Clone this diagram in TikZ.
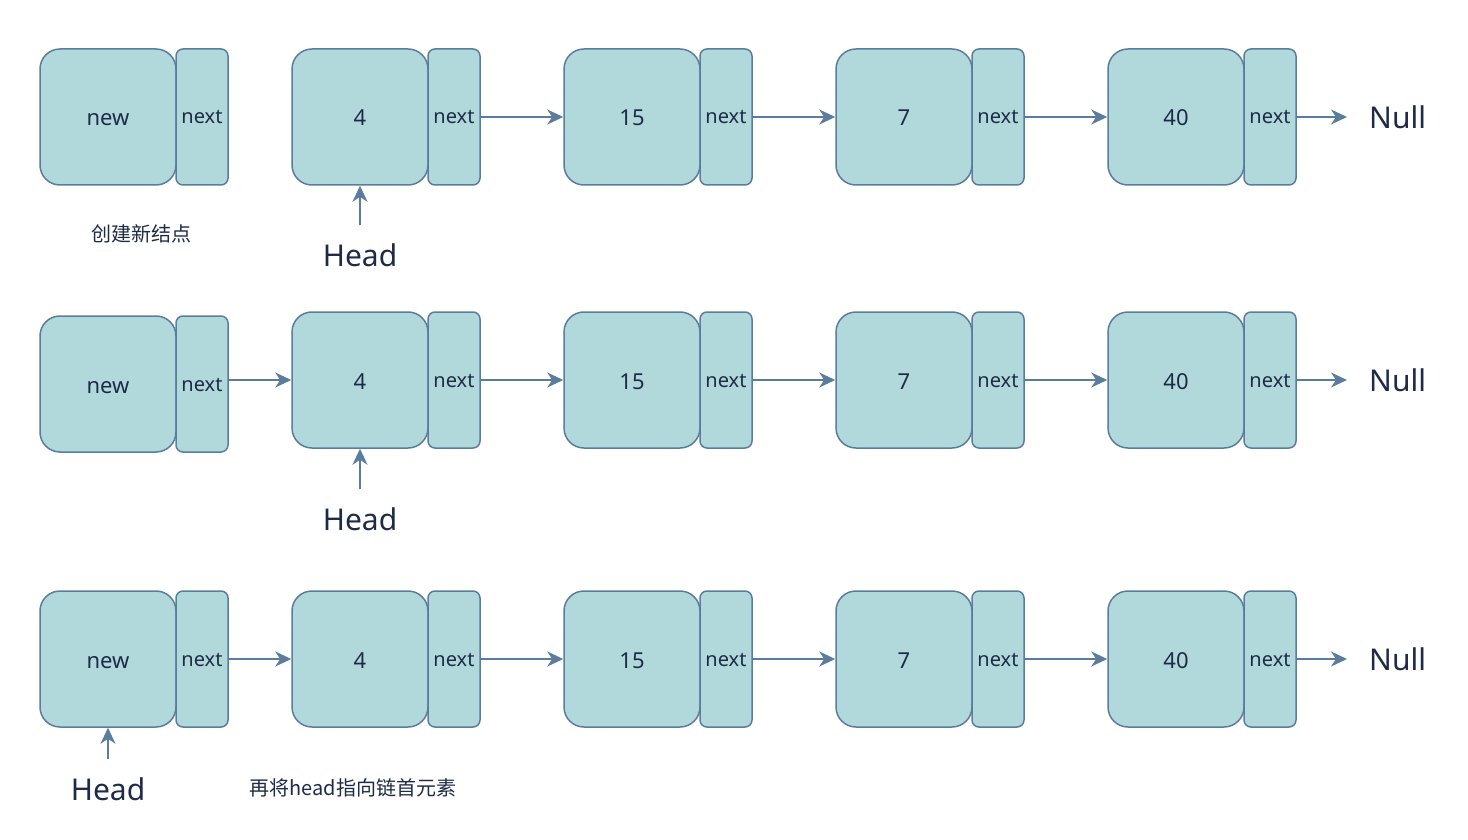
\documentclass[tikz,border=0pt]{standalone}
\usepackage{fontspec}
\setmainfont{Noto Sans}
\newfontfamily\cjk{Noto Sans CJK SC}
\usetikzlibrary{arrows.meta}

\definecolor{cellfill}{HTML}{B1D9DB}
\definecolor{celldraw}{HTML}{5A7D9E}
\definecolor{ink}{HTML}{1E2B47}

\tikzset{
	cell/.style={shape=rectangle,draw=celldraw,fill=cellfill,line width=1.5pt,rounded corners=20pt,
		minimum width=136pt,minimum height=136pt,inner sep=0pt,text=ink,
		text height=18pt,text depth=0pt,font=\fontsize{22}{26}\selectfont},
	ptr/.style={cell,rounded corners=7pt,minimum width=52pt,text height=14pt,font=\fontsize{20}{24}\selectfont},
	link/.style={-{Stealth[length=16pt,width=15pt,inset=5pt]},draw=celldraw,line width=1.5pt},
	tag/.style={text=ink,inner sep=0pt,font=\fontsize{30}{34}\selectfont},
	note/.style={text=ink,inner sep=0pt,font=\cjk\fontsize{20}{24}\selectfont}
}

\begin{document}
\begin{tikzpicture}[x=1pt,y=-1pt]
	
	\useasboundingbox (0,0) rectangle (1468,840);
	
	% row 1
	\node[cell] (new1)  at (108, 117)  {new};
	\node[ptr]  (new1n) at (202, 117)  {next};
	\node[cell] (a1)    at (360, 117)  {4};
	\node[ptr]  (a1n)   at (454, 117)  {next};
	\node[cell] (b1)    at (632, 117)  {15};
	\node[ptr]  (b1n)   at (726, 117)  {next};
	\node[cell] (c1)    at (904, 117)  {7};
	\node[ptr]  (c1n)   at (998, 117)  {next};
	\node[cell] (d1)    at (1176, 117) {40};
	\node[ptr]  (d1n)   at (1270, 117) {next};
	\node[tag,anchor=west] (null1) at (1369, 117) {Null};
	\node[tag]  (head1) at (360, 255)  {Head};
	\node[note] (note1) at (141, 234)  {创建新结点};
	\draw[link] (a1n) -- (b1);
	\draw[link] (b1n) -- (c1);
	\draw[link] (c1n) -- (d1);
	\draw[link,shorten >=22pt] (d1n) -- (null1);
	\draw[link,shorten <=18pt] (head1) -- (a1);
	
	% row 2
	\node[cell] (new2)  at (108, 384)  {new};
	\node[ptr]  (new2n) at (202, 384)  {next};
	\node[cell] (a2)    at (360, 380)  {4};
	\node[ptr]  (a2n)   at (454, 380)  {next};
	\node[cell] (b2)    at (632, 380)  {15};
	\node[ptr]  (b2n)   at (726, 380)  {next};
	\node[cell] (c2)    at (904, 380)  {7};
	\node[ptr]  (c2n)   at (998, 380)  {next};
	\node[cell] (d2)    at (1176, 380) {40};
	\node[ptr]  (d2n)   at (1270, 380) {next};
	\node[tag,anchor=west] (null2) at (1369, 380) {Null};
	\node[tag]  (head2) at (360, 519)  {Head};
	\draw[link] (new2n.east |- a2) -- (a2.west);
	\draw[link] (a2n) -- (b2);
	\draw[link] (b2n) -- (c2);
	\draw[link] (c2n) -- (d2);
	\draw[link,shorten >=22pt] (d2n) -- (null2);
	\draw[link,shorten <=18pt] (head2) -- (a2);
	
	% row 3
	\node[cell] (new3)  at (108, 659)  {new};
	\node[ptr]  (new3n) at (202, 659)  {next};
	\node[cell] (a3)    at (360, 659)  {4};
	\node[ptr]  (a3n)   at (454, 659)  {next};
	\node[cell] (b3)    at (632, 659)  {15};
	\node[ptr]  (b3n)   at (726, 659)  {next};
	\node[cell] (c3)    at (904, 659)  {7};
	\node[ptr]  (c3n)   at (998, 659)  {next};
	\node[cell] (d3)    at (1176, 659) {40};
	\node[ptr]  (d3n)   at (1270, 659) {next};
	\node[tag,anchor=west] (null3) at (1369, 659) {Null};
	\node[tag]  (head3) at (108, 789)  {Head};
	\node[note] (note3) at (353, 788)  {再将head指向链首元素};
	\draw[link] (new3n) -- (a3);
	\draw[link] (a3n) -- (b3);
	\draw[link] (b3n) -- (c3);
	\draw[link] (c3n) -- (d3);
	\draw[link,shorten >=22pt] (d3n) -- (null3);
	\draw[link,shorten <=18pt] (head3) -- (new3);
	
\end{tikzpicture}
\end{document}
